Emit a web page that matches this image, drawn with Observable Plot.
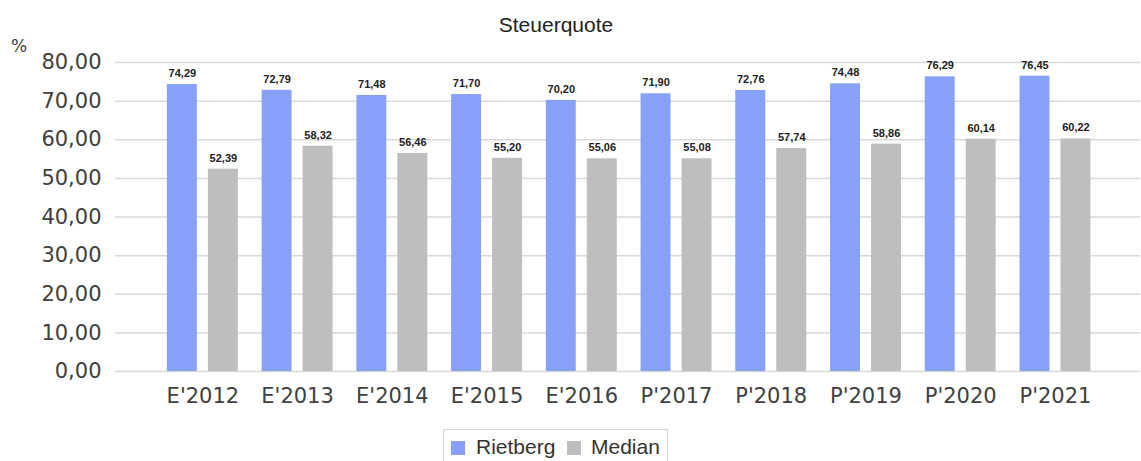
<!DOCTYPE html>
<html><head><meta charset="utf-8">
<script src="https://cdn.jsdelivr.net/npm/d3@7"></script>
<script src="https://cdn.jsdelivr.net/npm/@observablehq/plot@0.6"></script>
<style>
body{margin:0;background:#fff;}
#wrap{position:relative;width:1141px;height:461px;overflow:hidden;background:#fff;}
#chart{position:absolute;left:0;top:0;}
#title{position:absolute;left:406px;width:300px;top:14px;text-align:center;font:21px "Liberation Sans",Arial,sans-serif;color:#222;line-height:22px;}
#pct{position:absolute;left:11px;top:36px;font:17px "DejaVu Sans",sans-serif;color:#404040;line-height:20px;}
#legend{position:absolute;left:443px;top:429px;width:225px;height:40px;border:1px solid #d4d4d4;box-sizing:border-box;font:21px "Liberation Sans",Arial,sans-serif;color:#333;}
.sw{position:absolute;top:11px;width:14px;height:14px;}
.lb{position:absolute;top:6px;line-height:22px;}
</style></head><body>
<div id="wrap">
<div id="chart"></div>
<div id="title">Steuerquote</div>
<div id="pct">%</div>
<div id="legend"></div>
</div>
<script>
const categories = ["E'2012","E'2013","E'2014","E'2015","E'2016","P'2017","P'2018","P'2019","P'2020","P'2021"];
const rietberg = [74.29,72.79,71.48,71.70,70.20,71.90,72.76,74.48,76.29,76.45];
const median = [52.39,58.32,56.46,55.20,55.06,55.08,57.74,58.86,60.14,60.22];
const seriesNames = ["Rietberg","Median"];
const seriesColors = ["#86a1f7","#bebebe"];
const yTicks = [0,10,20,30,40,50,60,70,80];

const fmt = v => v.toFixed(2).replace(".", ",");
const R = categories.map((c,i)=>({cat:c, value:rietberg[i]}));
const M = categories.map((c,i)=>({cat:c, value:median[i]}));

const plot = Plot.plot({
  width:1141, height:461,
  marginTop:62, marginBottom:90, marginLeft:115, marginRight:1,
  x:{domain:categories, paddingInner:0, paddingOuter:0.41, align:0.515, round:false, axis:null},
  y:{domain:[0,80], axis:null},
  style:{fontFamily:"DejaVu Sans, sans-serif", background:"#fff", overflow:"visible"},
  marks:[
    Plot.ruleY(yTicks,{stroke:"#d9d9d9", strokeWidth:1.5}),
    Plot.barY(R,{x:"cat", y:"value", fill:seriesColors[0], insetLeft:11.9, insetRight:52.9}),
    Plot.barY(M,{x:"cat", y:"value", fill:seriesColors[1], insetLeft:52.9, insetRight:11.9}),
    Plot.text(R,{x:"cat", y:"value", text:d=>fmt(d.value), dx:-20.5, dy:-11, fontFamily:"Liberation Sans, Arial, sans-serif", fontWeight:"bold", fontSize:11, fill:"#222"}),
    Plot.text(M,{x:"cat", y:"value", text:d=>fmt(d.value), dx:20.5, dy:-11, fontFamily:"Liberation Sans, Arial, sans-serif", fontWeight:"bold", fontSize:11, fill:"#222"}),
    Plot.axisY(yTicks,{tickSize:0, tickPadding:14, tickFormat:fmt, fontSize:21, color:"#404040", label:null}),
    Plot.axisX({tickSize:0, tickPadding:17, fontSize:21, color:"#404040", label:null})
  ]
});
document.getElementById("chart").appendChild(plot);

const lg = document.getElementById("legend");
const pos = [{sw:7, lb:32},{sw:123, lb:147}];
seriesNames.forEach((n,i)=>{
  const s = document.createElement("div"); s.className="sw"; s.style.left=pos[i].sw+"px"; s.style.background=seriesColors[i]; lg.appendChild(s);
  const t = document.createElement("div"); t.className="lb"; t.style.left=pos[i].lb+"px"; t.textContent=n; lg.appendChild(t);
});
</script>
</body></html>
